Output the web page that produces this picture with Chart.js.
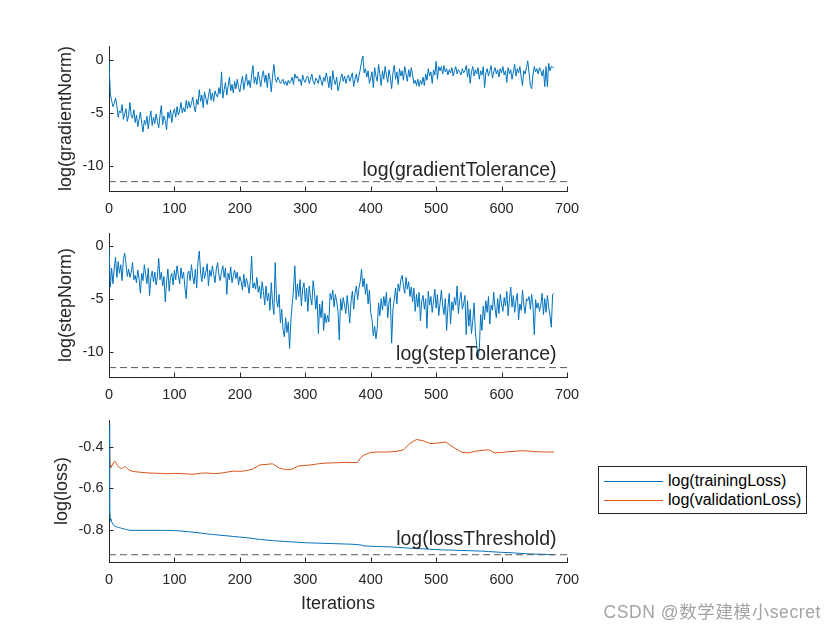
<!DOCTYPE html>
<html>
<head>
<meta charset="utf-8">
<title>Training progress</title>
<script src="https://cdn.jsdelivr.net/npm/chart.js@4.4.0/dist/chart.umd.min.js"></script>
<style>
  body { margin: 0; background: #fff; }
  #wrap { position: relative; width: 840px; height: 630px; overflow: hidden; }
  #wrap canvas { position: absolute; left: 0; top: 0; }
  #legend {
    position: absolute; left: 598px; top: 466px; width: 207px; height: 46px;
    border: 1px solid #262626; background: #fff;
    font: 16px "Liberation Sans", Arial, sans-serif; color: #000;
  }
  #legend .row { position: absolute; left: 0; height: 20px; line-height: 20px; white-space: nowrap; }
  #legend .swatch { position: absolute; left: 5px; top: 10px; width: 59px; height: 1px; }
  #legend .txt { position: absolute; left: 69px; top: 0; }
  #mark {
    position: absolute; right: 19px; top: 598px; line-height: 22px;
    font: 17.5px "Liberation Sans", "Noto Sans CJK SC", sans-serif; color: #a3a3a3; white-space: nowrap;
    letter-spacing: 0.6px;
  }
</style>
</head>
<body>
<div id="wrap">
  <canvas id="c-grad" width="840" height="630"></canvas>
  <canvas id="c-step" width="840" height="630"></canvas>
  <canvas id="c-loss" width="840" height="630"></canvas>
  <div id="legend"></div>
  <div id="mark">CSDN @数学建模小secret</div>
</div>
<script>
// ---- data ----
const ITER_STEP = 2;           // gradient / step norms sampled every 2 iterations
const xTicks = [0, 100, 200, 300, 400, 500, 600, 700];
const gradTicks = [-10, -5, 0];
const stepTicks = [-10, -5, 0];
const lossTicks = [-0.8, -0.6, -0.4];

const gradientNorm = [
  0, -3.2, -3.8, -4.4, -4.1, -3.6, -4.3, -5.4, -4.8, -5.0, -4.2, -5.6, -5.1, -4.6, -5.8, -5.2, -4.0, -5.3, -5.5, -4.7,
  -5.9, -5.2, -6.3, -5.6, -4.9, -6.0, -6.8, -5.7, -6.1, -5.3, -6.5, -5.5, -4.8, -6.2, -5.4, -6.0, -5.1, -5.8, -6.4, -5.2,
  -4.3, -6.1, -5.3, -5.7, -6.6, -4.9, -5.5, -4.7, -5.9, -5.0, -4.6, -5.4, -4.4, -5.2, -4.8, -4.0, -5.0, -4.5, -4.9, -3.8,
  -4.6, -3.9, -4.5, -4.1, -3.5, -4.4, -4.9, -3.7, -4.2, -2.8, -3.9, -3.3, -4.5, -3.0, -3.6, -4.2, -3.4, -2.7, -3.8, -3.1,
  -3.9, -2.9, -3.3, -3.5, -2.6, -3.2, -1.1, -3.6, -2.8, -2.1, -3.3, -2.5, -1.6, -2.9, -2.3, -3.1, -2.0, -2.7, -1.8, -2.6,
  -3.0, -2.2, -1.5, -2.8, -2.0, -1.3, -2.4, -1.9, -2.6, -1.4, -0.5, -2.2, -1.6, -2.3, -1.1, -1.8, -2.5, -1.5, -1.0, -2.1,
  -1.4, -2.6, -1.2, -1.8, -3.0, -1.5, -0.4, -1.7, -2.1, -1.6, -1.9, -2.2, -2.0, -1.8, -2.3, -2.0, -2.4, -1.9, -2.2, -2.0,
  -1.6, -2.3, -1.3, -1.7, -1.5, -2.0, -1.8, -2.4, -1.4, -1.9, -2.1, -1.6, -1.5, -2.2, -1.8, -1.3, -2.0, -2.3, -1.7, -1.9,
  -2.2, -1.4, -1.9, -2.4, -1.6, -2.0, -1.2, -1.8, -2.6, -1.5, -2.8, -1.0, -1.9, -2.3, -1.6, -2.9, -2.4, -1.7, -1.3, -2.0,
  -1.5, -2.2, -1.7, -1.4, -2.0, -1.6, -1.2, -2.5, -1.8, -1.3, -2.1, -1.5, -0.9, -0.1, 0.4, -1.2, -0.8, -1.6, -1.0, -2.2,
  -1.7, -1.1, -2.6, -0.7, -1.5, -2.0, -0.4, -1.3, -2.4, -1.0, -1.8, -0.6, -1.4, -2.1, -0.9, -1.6, -2.7, -1.2, -0.5, -1.8,
  -1.1, -2.3, -0.8, -1.5, -1.0, -1.9, -0.6, -1.3, -2.0, -0.9, -1.6, -0.7, -1.4, -2.2, -1.9, -2.4, -1.8, -2.5, -1.9, -2.3,
  -1.6, -2.4, -1.3, -1.9, -0.8, -1.5, -1.1, -2.2, -0.9, -1.4, -0.1, -1.8, -0.6, -1.0, -0.6, -1.3, -0.5, -1.1, -0.8, -1.4,
  -0.9, -1.2, -0.7, -1.5, -1.0, -0.6, -1.3, -0.9, -1.1, -1.4, -0.8, -1.2, -1.0, -0.5, -1.6, -0.8, -2.2, -1.1, -0.6, -1.5,
  -0.9, -1.3, -0.7, -1.8, -1.0, -1.4, -0.6, -2.6, -1.2, -0.8, -1.5, -1.0, -0.5, -1.7, -1.1, -0.7, -1.3, -0.9, -1.6, -0.8,
  -1.2, -0.6, -1.4, -1.0, -2.1, -0.7, -1.3, -0.9, -1.8, -1.1, -0.4, -1.5, -0.8, -1.2, -0.6, -1.6, -2.4, -1.0, -1.3, -0.7,
  -0.05, -1.2, -2.4, -2.7, -1.4, -0.6, -1.1, -0.8, -1.3, -0.7, -1.0, -1.5, -0.9, -2.5, -0.6, -2.5, -0.3, -1.0, -0.6, -0.7,
  -0.6
];

const stepNorm = [
  0, -3.9, -2.1, -3.6, -2.2, -1.1, -3.0, -1.5, -2.6, -1.8, -3.3, -1.3, -0.7, -1.7, -2.9, -2.2, -3.0, -2.5, -1.6, -3.2,
  -2.8, -3.5, -2.3, -3.1, -4.5, -2.6, -3.3, -1.8, -2.7, -3.6, -2.1, -4.7, -3.0, -2.4, -3.4, -2.5, -3.7, -2.9, -1.2, -3.2,
  -2.5, -3.8, -2.9, -5.3, -3.4, -2.2, -4.3, -3.0, -2.6, -3.7, -2.3, -3.2, -1.9, -2.8, -3.6, -2.1, -3.1, -2.5, -3.9, -5.0,
  -2.7, -2.4, -3.3, -1.8, -2.9, -3.6, -2.2, -4.0, -1.5, -0.5, -2.6, -3.4, -2.0, -3.1, -2.5, -1.7, -3.8, -2.3, -2.9, -1.9,
  -2.7, -3.5, -2.2, -1.6, -2.8, -3.3, -2.4, -1.9, -3.0, -2.1, -4.6, -2.6, -3.2, -2.0, -3.5, -2.8, -2.3, -3.1, -2.5, -3.7,
  -2.9, -3.4, -4.2, -2.7, -3.9, -3.1, -3.6, -4.5, -3.3, -1.0, -4.0, -3.5, -4.1, -3.0, -4.4, -3.8, -5.0, -3.4, -4.3, -5.6,
  -3.8, -5.2, -4.5, -6.1, -3.5, -5.4, -6.5, -1.6, -5.0, -5.8, -4.6, -7.3, -6.0, -7.9, -8.6, -6.8, -8.2, -7.2, -9.7, -7.0,
  -5.5, -4.2, -1.9, -5.1, -3.6, -4.8, -3.2, -5.7, -4.1, -3.5, -5.3, -4.0, -6.2, -3.8, -4.9, -5.6, -3.3, -4.4, -6.0, -4.7,
  -8.3, -5.5, -6.8, -5.2, -8.0, -6.4, -7.3, -6.6, -7.2, -4.5, -5.1, -4.2, -5.8, -4.6, -5.3, -6.2, -8.9, -5.0, -6.1, -4.9,
  -5.6, -6.4, -4.7, -5.9, -7.3, -5.2, -4.3, -6.0, -4.5, -3.8, -5.1, -4.0, -3.4, -2.2, -3.9, -3.1, -4.6, -3.6, -5.5, -4.2,
  -6.3, -7.0, -8.5, -7.6, -8.8, -7.8, -5.4, -6.6, -5.0, -6.1, -4.8, -5.7, -4.4, -6.8, -5.3, -4.9, -9.2, -6.0, -5.1, -4.0,
  -5.5, -3.6, -4.3, -3.2, -2.8, -3.8, -4.5, -3.0, -4.1, -3.4, -4.8, -3.9, -5.3, -4.0, -6.2, -4.6, -5.8, -4.4, -7.1, -5.2,
  -4.7, -6.0, -5.0, -7.8, -4.3, -5.6, -4.8, -6.3, -5.2, -4.1, -5.9, -4.6, -6.6, -5.4, -4.2, -5.7, -6.5, -5.0, -8.0, -5.8,
  -4.5, -7.4, -5.3, -6.1, -4.9, -5.6, -3.8, -6.4, -5.1, -4.4, -6.0, -5.5, -4.7, -8.4, -5.2, -7.6, -6.0, -8.3, -7.1, -5.4,
  -8.2, -9.4, -10.6, -9.8, -6.5, -8.0, -5.7, -7.0, -5.2, -6.3, -4.8, -7.4, -5.6, -6.1, -4.4, -5.9, -6.8, -5.0, -6.4, -4.6,
  -5.5, -6.2, -4.9, -5.7, -4.3, -6.6, -5.1, -3.9, -5.8, -4.7, -6.3, -5.2, -4.5, -7.0, -5.5, -6.1, -4.2, -5.6, -6.4, -5.0,
  -5.2, -4.8, -6.0, -4.6, -5.7, -8.4, -5.1, -5.9, -5.4, -6.2, -5.6, -4.5, -6.5, -5.0, -6.3, -4.7, -5.8, -6.6, -7.7, -4.6,
  -4.5
];

const lossIter = [
  0, 1, 2, 3, 5, 7, 9, 11, 13, 16, 19, 22, 25, 28, 32, 40, 50, 60, 70, 80, 90,
  100, 110, 120, 130, 140, 150, 160, 170, 180, 190, 200, 210, 220, 230, 240, 250, 260, 270, 280, 290,
  300, 310, 320, 330, 340, 350, 360, 370, 380, 385, 390, 400, 410, 420, 430, 440, 450, 460, 470, 480, 490,
  500, 510, 515, 520, 530, 540, 550, 560, 570, 580, 590, 600, 610, 620, 630, 640, 650, 660, 670, 680
];
const trainingLoss = [
  -0.30, -0.70, -0.745, -0.755, -0.765, -0.775, -0.78, -0.782, -0.785, -0.787, -0.79, -0.792, -0.795, -0.797, -0.80, -0.80, -0.80, -0.80, -0.80, -0.80, -0.80,
  -0.801, -0.803, -0.806, -0.809, -0.813, -0.817, -0.82, -0.823, -0.826, -0.829, -0.832, -0.835, -0.839, -0.843, -0.846, -0.849, -0.851, -0.853, -0.855, -0.857,
  -0.859, -0.860, -0.861, -0.862, -0.863, -0.864, -0.865, -0.866, -0.868, -0.870, -0.874, -0.876, -0.877, -0.878, -0.879, -0.881, -0.883, -0.885, -0.887, -0.888, -0.890,
  -0.892, -0.893, -0.894, -0.894, -0.895, -0.896, -0.897, -0.898, -0.899, -0.901, -0.903, -0.905, -0.906, -0.908, -0.910, -0.912, -0.913, -0.914, -0.915, -0.917
];
const validationLoss = [
  -0.40, -0.44, -0.49, -0.50, -0.49, -0.475, -0.47, -0.48, -0.49, -0.50, -0.505, -0.50, -0.495, -0.505, -0.515, -0.52, -0.523, -0.526, -0.527, -0.528, -0.53,
  -0.528, -0.529, -0.531, -0.532, -0.527, -0.526, -0.529, -0.527, -0.522, -0.517, -0.518, -0.515, -0.507, -0.488, -0.485, -0.482, -0.502, -0.51, -0.508, -0.492,
  -0.49, -0.487, -0.482, -0.479, -0.478, -0.477, -0.475, -0.476, -0.476, -0.452, -0.44, -0.428, -0.426, -0.426, -0.425, -0.423, -0.415, -0.385, -0.366, -0.372, -0.385,
  -0.384, -0.38, -0.378, -0.39, -0.41, -0.428, -0.43, -0.422, -0.418, -0.415, -0.43, -0.428, -0.424, -0.423, -0.42, -0.421, -0.424, -0.425, -0.426, -0.426
];

const thresholdX = [0, 700];
const gradientTolerance = Math.log(1e-5);
const stepTolerance = Math.log(1e-5);
const lossThreshold = Math.log(0.4);

// ---- styling ----
const AXIS = '#262626';
const BLUE = '#0072BD';
const ORANGE = '#D95319';
const DASH = '#595959';
const FONT = '"Liberation Sans", Arial, Helvetica, sans-serif';

const iterations = gradientNorm.map((_, i) => i * ITER_STEP);
const pts = (xs, ys) => xs.map((x, i) => ({ x: x, y: ys[i] }));

function lineSet(label, xs, ys, color) {
  return { label, data: pts(xs, ys), borderColor: color, borderWidth: 1, pointRadius: 0, tension: 0, fill: false };
}
function thresholdSet(value) {
  return {
    label: '', data: pts(thresholdX, thresholdX.map(() => value)),
    borderColor: DASH, borderWidth: 1, borderDash: [7, 4], pointRadius: 0, fill: false
  };
}

// MATLAB style ticks pointing into the axes
const inwardTicks = {
  id: 'inwardTicks',
  afterDatasetsDraw(chart) {
    const { ctx, chartArea: a, scales: { x, y } } = chart;
    ctx.save();
    ctx.strokeStyle = AXIS;
    ctx.lineWidth = 1;
    ctx.beginPath();
    x.ticks.forEach(t => {
      const px = Math.round(x.getPixelForValue(t.value)) + 0.5;
      ctx.moveTo(px, a.bottom); ctx.lineTo(px, a.bottom - 4.5);
    });
    y.ticks.forEach(t => {
      const py = Math.round(y.getPixelForValue(t.value)) + 0.5;
      ctx.moveTo(a.left, py); ctx.lineTo(a.left + 4.5, py);
    });
    ctx.stroke();
    ctx.restore();
  }
};

// text sitting on the dashed tolerance line
const thresholdLabel = {
  id: 'thresholdLabel',
  afterDatasetsDraw(chart, args, o) {
    const { ctx, scales: { x, y } } = chart;
    ctx.save();
    ctx.font = '19.5px ' + FONT;
    ctx.fillStyle = AXIS;
    ctx.textAlign = 'right';
    ctx.textBaseline = 'alphabetic';
    ctx.fillText(o.text, x.getPixelForValue(o.at), y.getPixelForValue(o.value) - o.lift);
    ctx.restore();
  }
};

function makeChart(id, datasets, cfg) {
  return new Chart(document.getElementById(id), {
    type: 'line',
    data: { datasets },
    plugins: [inwardTicks, thresholdLabel],
    options: {
      responsive: false,
      animation: false,
      devicePixelRatio: 1,
      layout: { padding: cfg.padding },
      plugins: {
        legend: { display: false },
        tooltip: { enabled: false },
        thresholdLabel: cfg.label
      },
      scales: {
        x: {
          type: 'linear', min: xTicks[0], max: xTicks[xTicks.length - 1],
          grid: { display: false, drawTicks: false },
          border: { display: true, color: AXIS, width: 1 },
          ticks: { color: AXIS, font: { family: FONT, size: 14.5 }, padding: 9, maxRotation: 0, autoSkip: false },
          afterBuildTicks: s => { s.ticks = xTicks.map(v => ({ value: v })); },
          afterFit: s => { s.height = cfg.xHeight; },
          title: {
            display: !!cfg.xTitle, text: cfg.xTitle || '', color: AXIS,
            font: { family: FONT, size: 18 }, padding: { top: 0, bottom: 0 }
          }
        },
        y: {
          min: cfg.yMin, max: cfg.yMax,
          grid: { display: false, drawTicks: false },
          border: { display: true, color: AXIS, width: 1 },
          ticks: { color: AXIS, font: { family: FONT, size: 14.5 }, padding: 5.5 },
          afterBuildTicks: s => { s.ticks = cfg.yTicks.map(v => ({ value: v })); },
          afterFit: s => { s.width = cfg.yWidth; },
          title: {
            display: true, text: cfg.yTitle, color: AXIS,
            font: { family: FONT, size: 18 }, padding: { top: 0, bottom: 0 }
          }
        }
      }
    }
  });
}

makeChart('c-grad', [
  thresholdSet(gradientTolerance),
  lineSet('log(gradientNorm)', iterations, gradientNorm, BLUE)
], {
  padding: { left: 55, right: 273, top: 46, bottom: 399 },
  xHeight: 40, yWidth: 54, yMin: -12.4, yMax: 1.35, yTicks: gradTicks,
  yTitle: 'log(gradientNorm)',
  label: { text: 'log(gradientTolerance)', at: 684, value: gradientTolerance, lift: 6 }
});

makeChart('c-step', [
  thresholdSet(stepTolerance),
  lineSet('log(stepNorm)', iterations, stepNorm, BLUE)
], {
  padding: { left: 55, right: 273, top: 233, bottom: 213 },
  xHeight: 40, yWidth: 54, yMin: -12.4, yMax: 1.2, yTicks: stepTicks,
  yTitle: 'log(stepNorm)',
  label: { text: 'log(stepTolerance)', at: 684, value: stepTolerance, lift: 7.5 }
});

const lossChart = makeChart('c-loss', [
  thresholdSet(lossThreshold),
  lineSet('log(trainingLoss)', lossIter, trainingLoss, BLUE),
  lineSet('log(validationLoss)', lossIter, validationLoss, ORANGE)
], {
  padding: { left: 51, right: 273, top: 420, bottom: 15 },
  xHeight: 53, yWidth: 58, yMin: -0.951, yMax: -0.273, yTicks: lossTicks,
  yTitle: 'log(loss)', xTitle: 'Iterations',
  label: { text: 'log(lossThreshold)', at: 684, value: lossThreshold, lift: 9.5 }
});

// boxed legend to the right of the loss axes
const legend = document.getElementById('legend');
lossChart.data.datasets.filter(d => d.label).forEach((d, i) => {
  const row = document.createElement('div');
  row.className = 'row';
  row.style.top = (4 + i * 19.3) + 'px';
  row.innerHTML = '<span class="swatch" style="background:' + d.borderColor + '"></span><span class="txt"></span>';
  row.querySelector('.txt').textContent = d.label;
  legend.appendChild(row);
});
</script>
</body>
</html>
